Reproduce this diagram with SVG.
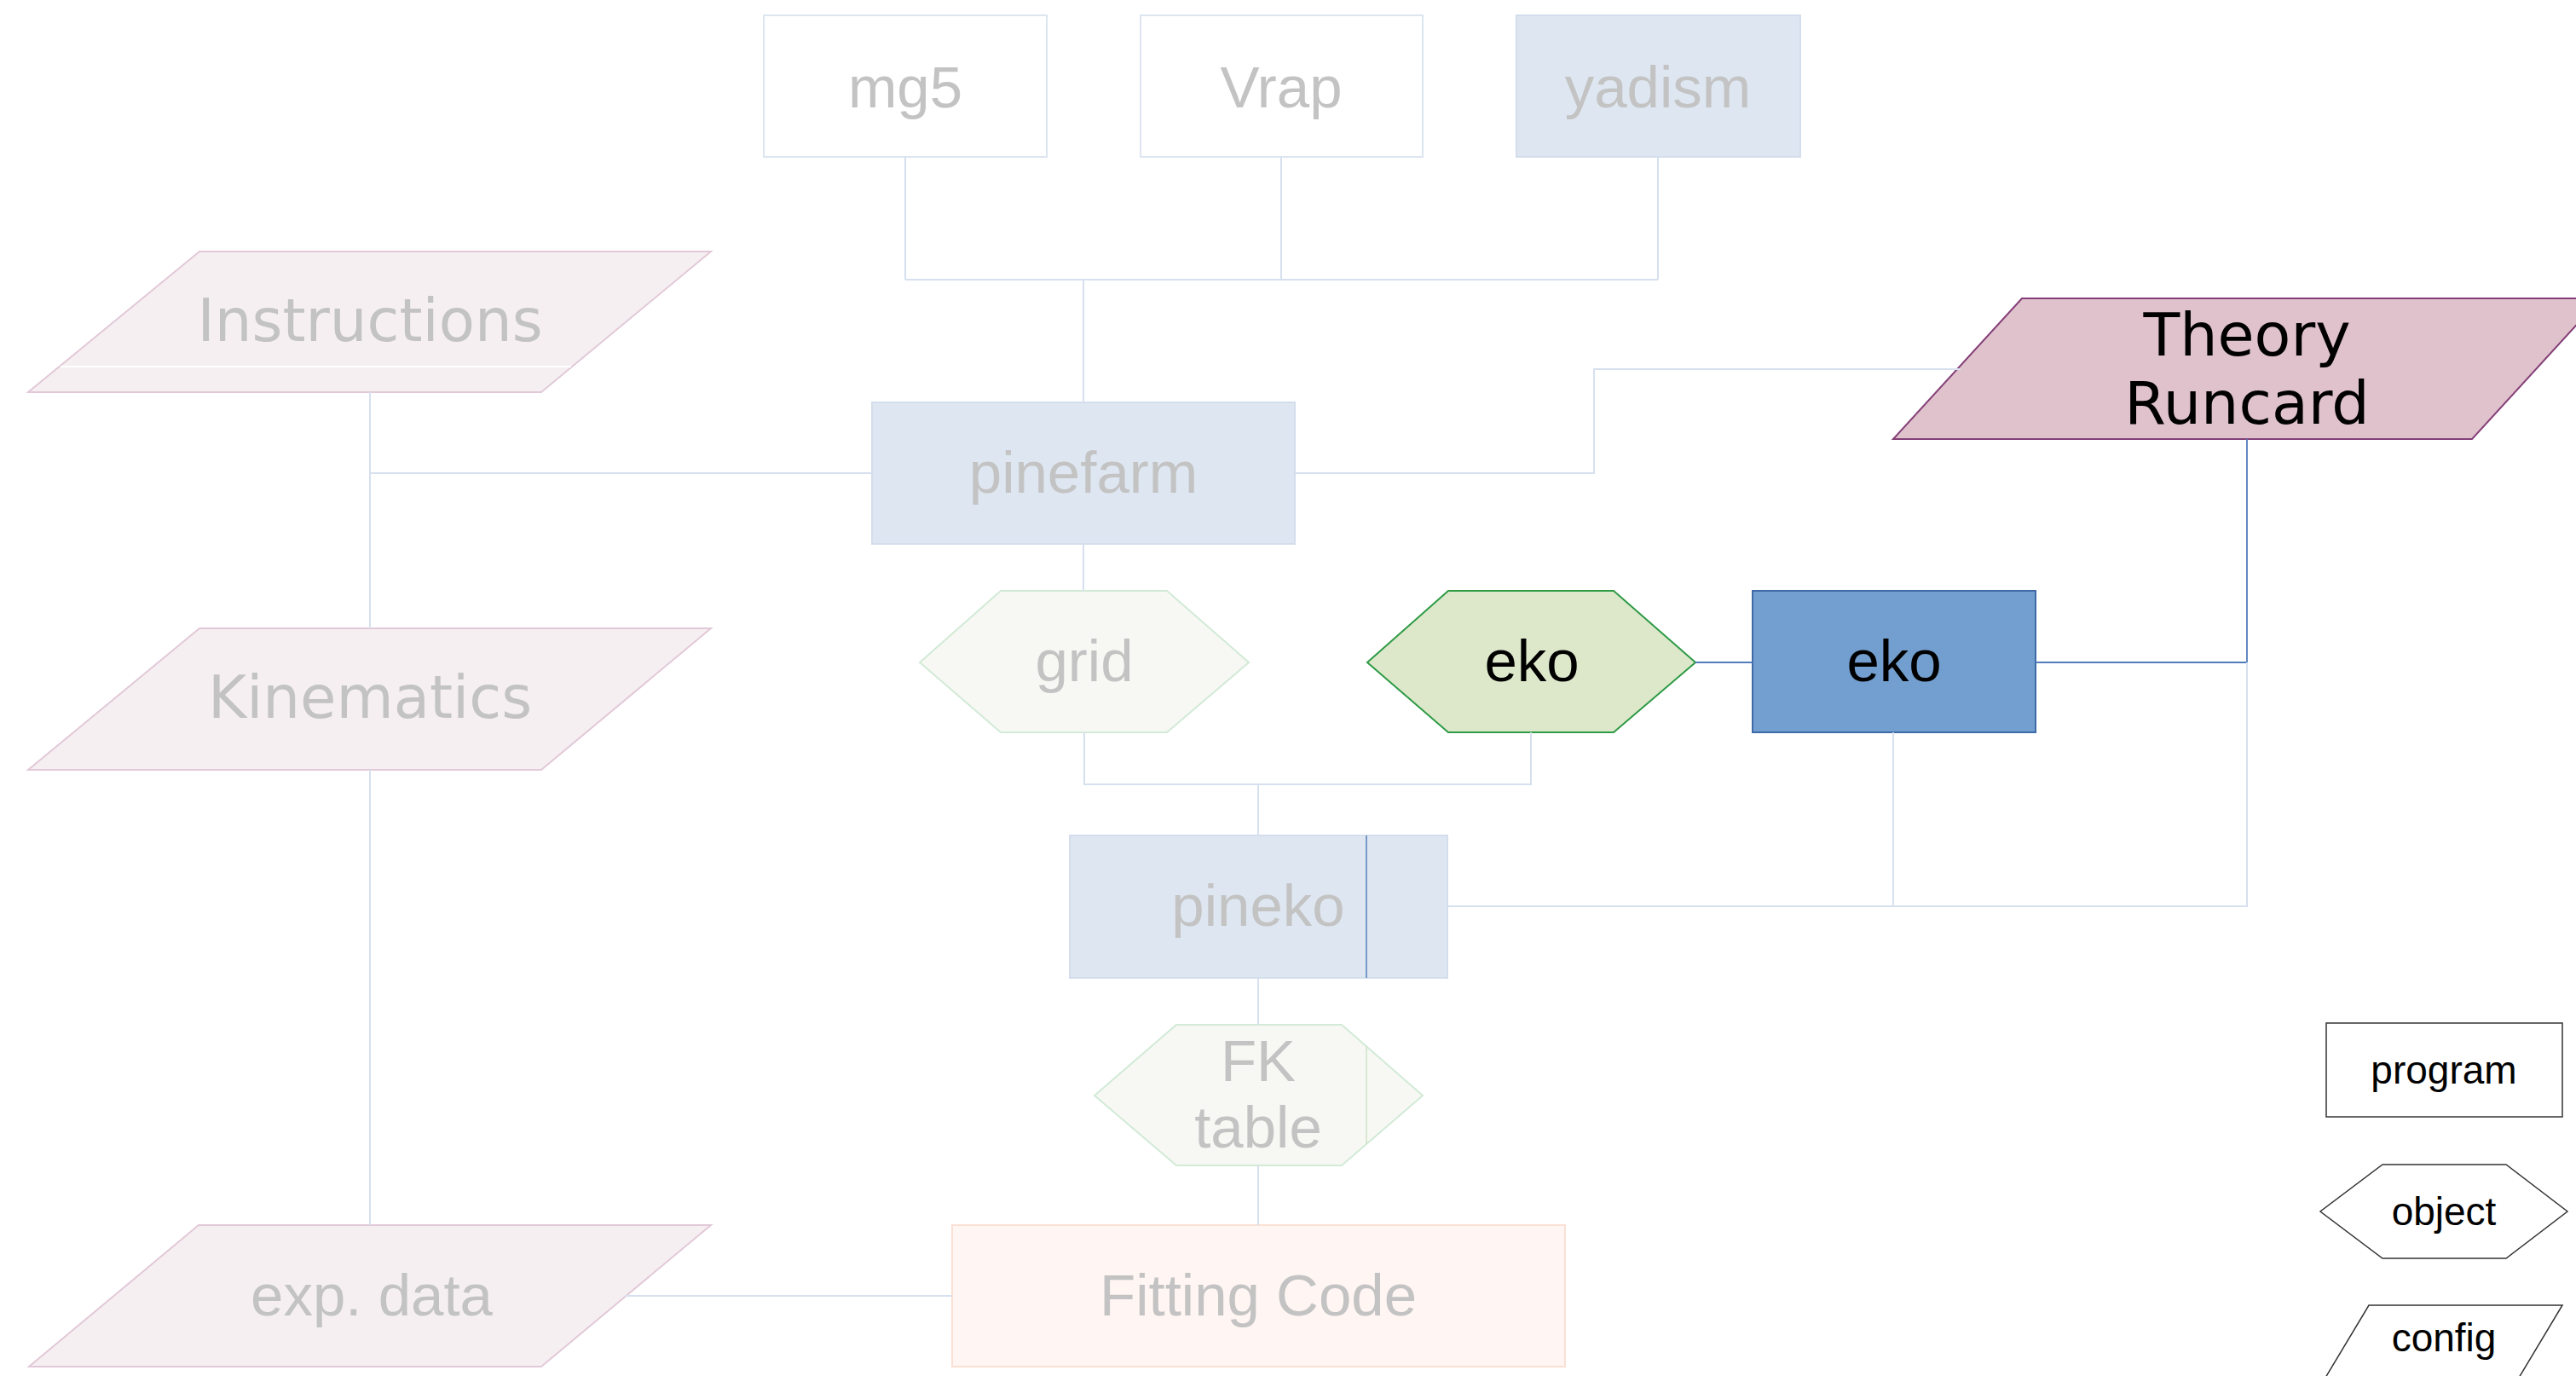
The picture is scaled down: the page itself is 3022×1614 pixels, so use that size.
<svg xmlns="http://www.w3.org/2000/svg" width="3022" height="1614" viewBox="0 0 3022 1614">
<style>
.bg{fill:#ffffff}
.prog{fill:#ffffff;stroke:#dce5f0;stroke-width:2}
.progf{fill:#dee7f1;stroke:#d3deec;stroke-width:2}
.objf{fill:#f7f8f3;stroke:#d2ead6;stroke-width:2}
.cfgf{fill:#f5eff1;stroke:#e2c9d8;stroke-width:2}
.fit{fill:#fff5f2;stroke:#fbe0d4;stroke-width:2}
.t{font-family:"Liberation Sans",Arial,sans-serif;font-size:69px;text-anchor:middle;fill:#c3c3c3}
.d{font-family:"DejaVu Sans",sans-serif;font-size:69px;text-anchor:middle;fill:#c3c3c3}
.k{fill:#000000}
.lg{fill:#ffffff;stroke:#333333;stroke-width:1.5}
.lt{font-family:"Liberation Sans",Arial,sans-serif;font-size:46px;text-anchor:middle;fill:#000000}
.c{fill:none;stroke:#d6e0ee;stroke-width:2}
.cb{fill:none;stroke:#527cbb;stroke-width:1.8}
</style>
<rect class="bg" x="0" y="0" width="3022" height="1614"/>
<g id="nodes">
<g id="mg5"><rect class="prog" x="896" y="18" width="332" height="166"/><text class="t" x="1062" y="126">mg5</text></g>
<g id="vrap"><rect class="prog" x="1338" y="18" width="331" height="166"/><text class="t" x="1503" y="126">Vrap</text></g>
<g id="yadism"><rect class="progf" x="1779" y="18" width="333" height="166"/><text class="t" x="1945" y="126">yadism</text></g>
<g id="instructions"><polygon class="cfgf" points="234,295 834,295 635,460 33,460"/><line x1="71" y1="430" x2="670" y2="430" stroke="#ffffff" stroke-width="2"/><text class="d" x="434" y="400">Instructions</text></g>
<g id="pinefarm"><rect class="progf" x="1023" y="472" width="496" height="166"/><text class="t" x="1271" y="578">pinefarm</text></g>
<g id="theory-runcard"><polygon points="2372,350 3051,350 2900,515 2221,515" fill="#dfc2cb" stroke="#843f78" stroke-width="2"/><text class="d k" style="font-size:70px" x="2636" y="417">Theory</text><text class="d k" style="font-size:70px" x="2636" y="497">Runcard</text></g>
<g id="kinematics"><polygon class="cfgf" points="234,737 834,737 635,903 33,903"/><text class="d" x="434" y="842">Kinematics</text></g>
<g id="grid"><polygon class="objf" points="1174,693 1369,693 1465,777 1369,859 1174,859 1079,777"/><text class="t" x="1272" y="799">grid</text></g>
<g id="eko-object"><polygon points="1699,693 1893,693 1989,777 1893,859 1699,859 1604,777" fill="#dde8cb" stroke="#2e9b45" stroke-width="2"/><text class="t k" x="1797" y="799">eko</text></g>
<g id="eko-program"><rect x="2056" y="693" width="332" height="166" fill="#729fcf" stroke="#3f6aa8" stroke-width="2"/><text class="t k" x="2222" y="799">eko</text></g>
<g id="pineko"><rect class="progf" x="1255" y="980" width="443" height="167"/><text class="t" x="1476" y="1086">pineko</text></g>
<g id="fk-table"><polygon class="objf" points="1380,1202 1574,1202 1669,1285 1574,1367 1380,1367 1284,1285"/><text class="t" x="1476" y="1268">FK</text><text class="t" x="1476" y="1346">table</text></g>
<g id="exp-data"><polygon class="cfgf" points="233,1437 834,1437 635,1603 34,1603"/><text class="t" x="436" y="1543">exp. data</text></g>
<g id="fitting-code"><rect class="fit" x="1117" y="1437" width="719" height="166"/><text class="t" x="1476" y="1543">Fitting Code</text></g>
<g id="legend-program"><rect class="lg" x="2729" y="1200" width="277" height="110"/><text class="lt" x="2867" y="1271">program</text></g>
<g id="legend-object"><polygon class="lg" points="2795,1366 2940,1366 3012,1421 2940,1476 2795,1476 2722,1421"/><text class="lt" x="2867" y="1437">object</text></g>
<g id="legend-config"><polygon class="lg" points="2779,1531 3006,1531 2940,1641 2713,1641"/><text class="lt" x="2867" y="1585">config</text></g>
</g>
<g id="connectors">
<path class="c" d="M1062,184 V328 M1503,184 V328 M1945,184 V328 M1062,328 H1945 M1271,328 V472"/>
<path class="c" d="M434,460 V737 M434,555 H1023"/>
<path class="c" d="M1519,555 H1870 V433 H2300"/>
<path class="c" d="M1271,638 V693"/>
<path class="c" d="M1272,859 V920 H1796 V859 M1476,920 V980"/>
<path class="cb" d="M1989,777 H2056"/>
<path class="cb" d="M2388,777 H2636 V515"/>
<path class="c" d="M2636,777 V1063 H1698 M2221,859 V1063"/>
<path class="c" d="M1476,1147 V1202 M1476,1367 V1437"/>
<path class="c" d="M434,903 V1437"/>
<path class="c" d="M733,1520 H1117"/>
<path fill="none" stroke="#527cbb" stroke-width="1.5" d="M1603,980 V1147"/>
<path fill="none" stroke="#cfe3c8" stroke-width="1.5" d="M1603,1227 V1342"/>
</g>
</svg>
